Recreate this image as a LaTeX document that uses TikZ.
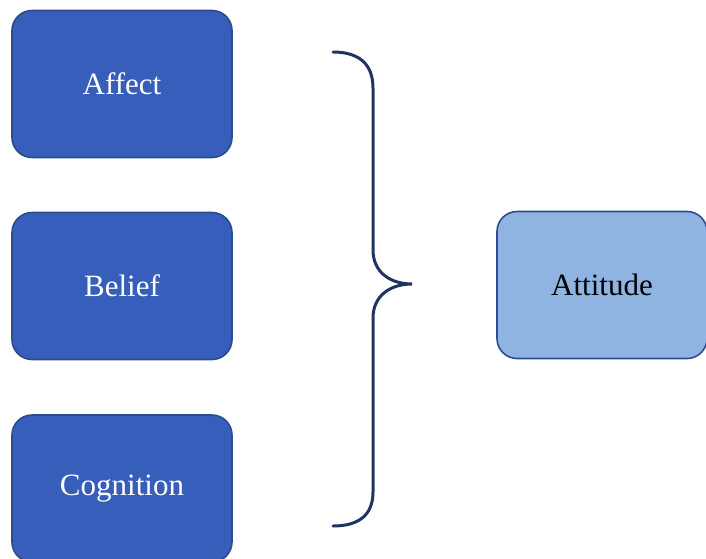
\documentclass[tikz,border=0pt]{standalone}
\usepackage{fontspec}
\setmainfont{Liberation Serif}
\usepackage{tikz}
\usetikzlibrary{positioning}
\definecolor{boxblue}{HTML}{375EBA}
\definecolor{boxedge}{HTML}{2C4C8C}
\definecolor{lightblue}{HTML}{8FB4E2}
\definecolor{bracenavy}{HTML}{1F3462}

\begin{document}
\begin{tikzpicture}[x=0.5pt, y=-0.5pt,
  factor/.style={draw=boxedge, fill=boxblue, thick, rounded corners=10pt,
                 minimum width=110pt, minimum height=73.5pt,
                 text=white, font=\fontsize{15.5}{18}\selectfont},
  result/.style={factor, fill=lightblue, text=black, minimum width=105pt},
  brace/.style={draw=bracenavy, line width=1.5pt, line cap=round}
]
  \useasboundingbox (0,0) rectangle (706,558);

  % the three components (left)
  \node[factor] (affect) at (122,84) {Affect};
  \node[factor] (belief) at (122,286) {Belief};
  \node[factor] (cognition) at (122,488.5) {Cognition};

  % curly brace
  \draw[brace] (333,52) .. controls (360,52) and (373,65) .. (373,88)
    -- (373,250) .. controls (373,272) and (390,284) .. (412,284)
    .. controls (390,284) and (373,296) .. (373,318)
    -- (373,492) .. controls (373,514) and (360,526) .. (333,526);

  % outcome (right)
  \node[result] (attitude) at (602,285) {Attitude};
\end{tikzpicture}
\end{document}
